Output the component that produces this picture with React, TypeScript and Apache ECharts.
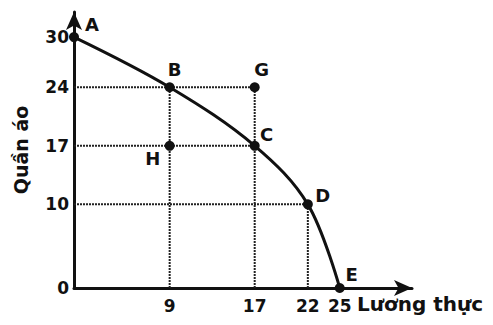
import React, { useEffect, useRef } from "react";
import * as echarts from "echarts";

// Data
const curvePoints: [number, number][] = [
  [0, 30],
  [9, 24],
  [17, 17],
  [22, 10],
  [25, 0],
];
const pointNames = ["A", "B", "G", "C", "H", "D", "E"];
const pointValues: [number, number][] = [
  [0, 30],
  [9, 24],
  [17, 24],
  [17, 17],
  [9, 17],
  [22, 10],
  [25, 0],
];
const xTicks = [9, 17, 22, 25];
const yTicks = [0, 10, 17, 24, 30];
const guideSegments: [number, number, number, number][] = [
  [0, 24, 17, 24],
  [0, 17, 17, 17],
  [0, 10, 22, 10],
  [9, 0, 9, 24],
  [17, 0, 17, 24],
  [22, 0, 22, 10],
];
const xName = "Lương thực";
const yName = "Quần áo";

// label offsets (style)
const labelOffsets: Record<string, [number, number]> = {
  A: [18, -13],
  B: [5, -18],
  G: [7, -18],
  C: [12, -11],
  H: [-17, 13],
  D: [15, -9],
  E: [12, -14],
};

const FONT = "'DejaVu Sans', 'Liberation Sans', Arial, sans-serif";
const INK = "#111";

export default function App() {
  const ref = useRef<HTMLDivElement>(null);
  useEffect(() => {
    if (!ref.current) return;
    const chart = echarts.init(ref.current, undefined, { renderer: "svg" });
    const guideSeries = guideSegments.map((s) => ({
      type: "line",
      data: [
        [s[0], s[1]],
        [s[2], s[3]],
      ],
      showSymbol: false,
      silent: true,
      lineStyle: { color: "#222", width: 2, type: [2, 1], opacity: 1 },
      z: 1,
    }));
    chart.setOption({
      animation: false,
      backgroundColor: "#fff",
      grid: { left: 74, right: 81, top: 12, bottom: 37, containLabel: false, outerBoundsMode: "none" },
      xAxis: {
        type: "value",
        min: 0,
        max: 31.8,
        splitLine: { show: false },
        axisTick: { show: false },
        axisLine: {
          onZero: false,
          symbol: ["none", "arrow"],
          symbolSize: [12, 18],
          lineStyle: { color: INK, width: 3 },
        },
        axisLabel: {
          customValues: xTicks,
          margin: 9,
          color: INK,
          fontSize: 17,
          fontWeight: "bold",
          fontFamily: FONT,
        },
      },
      yAxis: {
        type: "value",
        min: 0,
        max: 33,
        splitLine: { show: false },
        axisTick: { show: false },
        axisLine: {
          onZero: false,
          symbol: ["none", "arrow"],
          symbolSize: [12, 18],
          lineStyle: { color: INK, width: 3 },
        },
        axisLabel: {
          customValues: yTicks,
          margin: 5,
          color: INK,
          fontSize: 17,
          fontWeight: "bold",
          fontFamily: FONT,
        },
        name: yName,
        nameLocation: "middle",
        nameGap: 44,
        nameRotate: 90,
        nameTextStyle: {
          color: INK,
          fontSize: 19,
          fontWeight: "bold",
          fontFamily: FONT,
        },
      },
      graphic: [
        {
          type: "text",
          left: 357,
          top: 294,
          style: {
            text: xName,
            fill: INK,
            fontSize: 20,
            fontWeight: "bold",
            fontFamily: FONT,
          },
        },
      ],
      series: [
        ...guideSeries,
        {
          type: "line",
          data: curvePoints,
          smooth: 0.35,
          showSymbol: false,
          lineStyle: { color: INK, width: 3 },
          z: 3,
        },
        {
          type: "scatter",
          data: pointValues.map((v, i) => ({
            name: pointNames[i],
            value: v,
            label: { offset: labelOffsets[pointNames[i]] },
          })),
          symbolSize: 10,
          itemStyle: { color: INK, opacity: 1 },
          z: 4,
          label: {
            show: true,
            position: "inside",
            formatter: (p: any) => p.name,
            color: INK,
            fontSize: 18,
            fontWeight: "bold",
            fontFamily: FONT,
          },
        },
      ],
    });
    return () => chart.dispose();
  }, []);
  return <div ref={ref} style={{ width: 493, height: 325, position: "absolute", left: 0, top: 0 }} />;
}
